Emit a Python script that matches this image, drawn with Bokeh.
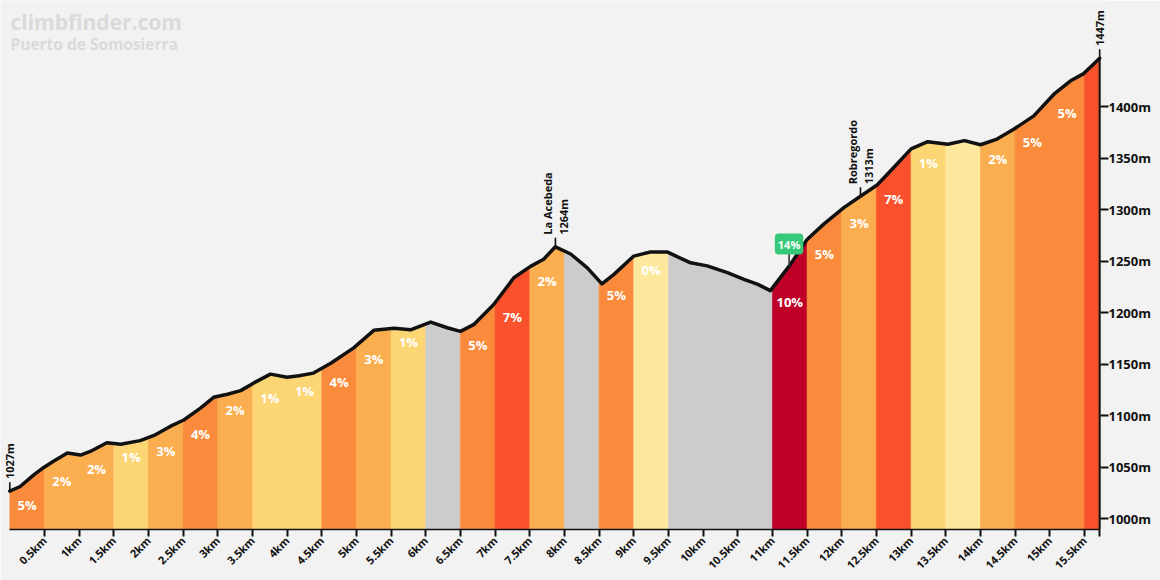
import numpy as np
from bokeh.plotting import figure
from bokeh.models import Label, FixedTicker, Range1d
from bokeh.embed import file_html
from bokeh.resources import INLINE
from bokeh.core.properties import value

# ---------------- data ----------------
dist_km = [0.00, 0.15, 0.35, 0.49, 0.63, 0.83, 1.02, 1.16, 1.40, 1.60, 1.88, 2.08, 2.32, 2.51,
           2.75, 2.94, 3.14, 3.33, 3.52, 3.76, 4.00, 4.17, 4.38, 4.63, 4.96, 5.25, 5.54, 5.78,
           6.07, 6.31, 6.50, 6.69, 6.98, 7.27, 7.51, 7.70, 7.87, 8.09, 8.33, 8.54, 8.71, 9.00,
           9.24, 9.48, 9.82, 10.06, 10.35, 10.59, 10.79, 10.97, 11.26, 11.50, 11.74, 12.03,
           12.27, 12.51, 12.75, 13.00, 13.24, 13.53, 13.77, 14.00, 14.24, 14.48, 14.77, 15.06,
           15.30, 15.49, 15.72]
elev_m = [1027, 1031.5, 1043, 1050, 1056, 1064, 1062, 1065.5, 1074, 1072.5, 1076, 1081, 1090, 1096,
          1107.5, 1118, 1121, 1124.5, 1132, 1140.5, 1137.5, 1139, 1141.5, 1151, 1166, 1183, 1185, 1183.5,
          1191, 1185.5, 1182, 1188.5, 1208, 1234, 1245, 1252, 1264, 1257, 1243.5, 1228, 1237, 1255,
          1259, 1259, 1248.5, 1245.5, 1239, 1232.5, 1227.5, 1221.5, 1247, 1271, 1286, 1302,
          1313, 1324, 1341, 1359, 1366, 1363.5, 1367, 1363, 1368.5, 1378, 1391, 1412,
          1425, 1432, 1447]

seg_start_km = [0.0, 0.5, 1.0, 1.5, 2.0, 2.5, 3.0, 3.5, 4.0, 4.5, 5.0, 5.5, 6.0, 6.5, 7.0, 7.5,
                8.0, 8.5, 9.0, 9.5, 10.0, 10.5, 11.0, 11.5, 12.0, 12.5, 13.0, 13.5, 14.0, 14.5,
                15.0, 15.5]
seg_grade = [5, 2, 2, 1, 3, 4, 2, 1, 1, 4, 3, 1, -1, 5, 7, 2,
             -1, 5, 0, -1, -1, -1, 10, 5, 3, 7, 1, 0, 2, 5,
             5, 7]
seg_label = ["5%", "2%", "2%", "1%", "3%", "4%", "2%", "1%", "1%", "4%", "3%", "1%", "", "5%", "7%", "2%",
             "", "5%", "0%", "", "", "", "10%", "5%", "3%", "7%", "1%", "", "2%", "5%",
             "5%", ""]

x_ticks = [0.5, 1.0, 1.5, 2.0, 2.5, 3.0, 3.5, 4.0, 4.5, 5.0, 5.5, 6.0, 6.5, 7.0, 7.5, 8.0,
           8.5, 9.0, 9.5, 10.0, 10.5, 11.0, 11.5, 12.0, 12.5, 13.0, 13.5, 14.0, 14.5, 15.0, 15.5]
x_tick_labels = ["0.5km", "1km", "1.5km", "2km", "2.5km", "3km", "3.5km", "4km", "4.5km", "5km",
                 "5.5km", "6km", "6.5km", "7km", "7.5km", "8km", "8.5km", "9km", "9.5km", "10km",
                 "10.5km", "11km", "11.5km", "12km", "12.5km", "13km", "13.5km", "14km", "14.5km",
                 "15km", "15.5km"]
y_ticks = [1000, 1050, 1100, 1150, 1200, 1250, 1300, 1350, 1400]
y_tick_labels = ["1000m", "1050m", "1100m", "1150m", "1200m", "1250m", "1300m", "1350m", "1400m"]

marker_km = [0.0, 7.87, 12.27, 15.72]
marker_elev = [1027, 1264, 1313, 1447]
marker_text = ["1027m", "La Acebeda\n1264m", "Robregordo\n1313m", "1447m"]

max_grade_km = 11.24
max_grade_text = "14%"

title_text = "climbfinder.com"
subtitle_text = "Puerto de Somosierra"

# ---------------- layout / styling ----------------
BG = "#F2F2F2"
FONT = "Open Sans"
PX_PER_M = 1.029          # vertical scale
PX_PER_KM = 69.33         # horizontal scale
X0_PX = 9.3               # pixel of km 0
Y1000_PX = 517.5          # pixel of 1000 m
FRAME_RIGHT = 1108
FRAME_BOTTOM = 528        # expected frame bottom (depends on x-axis size)


def grade_color(g):
    if g < 0:
        return "#CCCCCC"
    if g == 0:
        return "#FDE89E"
    if g <= 1:
        return "#FCD574"
    if g <= 3:
        return "#FBAE4F"
    if g <= 5:
        return "#FA8B3C"
    if g <= 8:
        return "#F9512B"
    return "#BE0028"


x = np.array(dist_km)
y = np.array(elev_m)
x_end = x[-1]
xr0 = -X0_PX / PX_PER_KM
xr1 = (FRAME_RIGHT - X0_PX) / PX_PER_KM
y0 = 1000 - (FRAME_BOTTOM - Y1000_PX) / PX_PER_M
y1 = 1000 + Y1000_PX / PX_PER_M

p = figure(width=1160, height=580, output_backend="svg", toolbar_location=None,
           x_range=Range1d(xr0, xr1), y_range=Range1d(y0, y1),
           y_axis_location="right",
           min_border_left=0, min_border_right=1160 - FRAME_RIGHT, min_border_top=0,
           min_border_bottom=40)
p.background_fill_color = BG
p.border_fill_color = BG
p.outline_line_color = None
p.xgrid.visible = False
p.ygrid.visible = False

# coloured segments
seg_ends = seg_start_km[1:] + [x_end]
for a, b, g, lab in zip(seg_start_km, seg_ends, seg_grade, seg_label):
    inside = (x > a) & (x < b)
    xs = np.concatenate([[a], x[inside], [b]])
    ys = np.interp(xs, x, y)
    col = grade_color(g)
    px = np.concatenate([xs, xs[::-1]])
    py = np.concatenate([ys, np.full(len(xs), y0 - 5)])
    p.patch(px, py, fill_color=col, line_color=col, line_width=0.6)
    if lab:
        ly = min(ys[0], ys[-1]) - 13.5
        p.text(x=[(a + b) / 2], y=[ly], text=[lab], text_color="white",
               text_font=value(FONT), text_font_style="bold", text_font_size="13px",
               text_align="center", text_baseline="middle")

# right edge line (axis line at the end of the climb)
p.segment(x0=[x_end], y0=[y0 - 5], x1=[x_end], y1=[y[-1]], line_color="#111111", line_width=2)

# profile line
p.line(x, y, line_color="#111111", line_width=3.5, line_join="round", line_cap="round")

# markers
for mk, me, mt in zip(marker_km, marker_elev, marker_text):
    p.segment(x0=[mk], y0=[me], x1=[mk], y1=[me + 9 / PX_PER_M], line_color="#111111", line_width=1.6)
    p.add_layout(Label(x=mk, y=me + 12 / PX_PER_M, text=mt, angle=np.pi / 2,
                       text_align="left", text_baseline="middle",
                       text_font=FONT, text_font_style="bold", text_font_size="11px",
                       text_color="#111111", text_line_height=1.05))

# max gradient badge
me = float(np.interp(max_grade_km, x, y))
p.segment(x0=[max_grade_km], y0=[me], x1=[max_grade_km], y1=[me + 16 / PX_PER_M],
          line_color="#333333", line_width=1.6)
p.add_layout(Label(x=max_grade_km, y=me + 22 / PX_PER_M, text=max_grade_text,
                   text_align="center", text_baseline="middle",
                   text_font=FONT, text_font_style="bold", text_font_size="11px",
                   text_color="white", background_fill_color="#35C979",
                   border_radius=4, padding=3))

# watermark
p.add_layout(Label(x=0.01, y=1000 + (Y1000_PX - 21) / PX_PER_M, text=title_text,
                   text_align="left", text_baseline="middle", text_font=FONT,
                   text_font_style="bold", text_font_size="21px", text_color="#DADADA"))
p.add_layout(Label(x=0.01, y=1000 + (Y1000_PX - 43) / PX_PER_M, text=subtitle_text,
                   text_align="left", text_baseline="middle", text_font=FONT,
                   text_font_style="bold", text_font_size="15.5px", text_color="#DADADA"))

# axes
xa = p.xaxis[0]
xa.ticker = FixedTicker(ticks=x_ticks + [x_end])
xa.major_label_overrides = {**{t: l for t, l in zip(x_ticks, x_tick_labels)}, x_end: ""}
xa.major_label_orientation = np.pi / 4
xa.bounds = (0, x_end)
xa.major_tick_in = 0
xa.major_tick_out = 7
xa.major_tick_line_width = 2
xa.major_tick_line_color = "#111111"
xa.minor_tick_line_color = None
xa.axis_line_color = "#111111"
xa.axis_line_width = 1.5
xa.major_label_text_font = FONT
xa.major_label_text_font_style = "bold"
xa.major_label_text_font_size = "11px"
xa.major_label_text_color = "#111111"
xa.major_label_standoff = 2

ya = p.yaxis[0]
ya.ticker = FixedTicker(ticks=y_ticks)
ya.major_label_overrides = {t: l for t, l in zip(y_ticks, y_tick_labels)}
ya.axis_line_color = None
ya.major_tick_in = int(FRAME_RIGHT - (X0_PX + x_end * PX_PER_KM))
ya.major_tick_out = 0
ya.major_tick_line_width = 2
ya.major_tick_line_color = "#111111"
ya.minor_tick_line_color = None
ya.major_label_text_font = FONT
ya.major_label_text_font_style = "bold"
ya.major_label_text_font_size = "13px"
ya.major_label_text_color = "#111111"
ya.major_label_standoff = 0

open("out.html", "w").write(file_html(p, INLINE))
